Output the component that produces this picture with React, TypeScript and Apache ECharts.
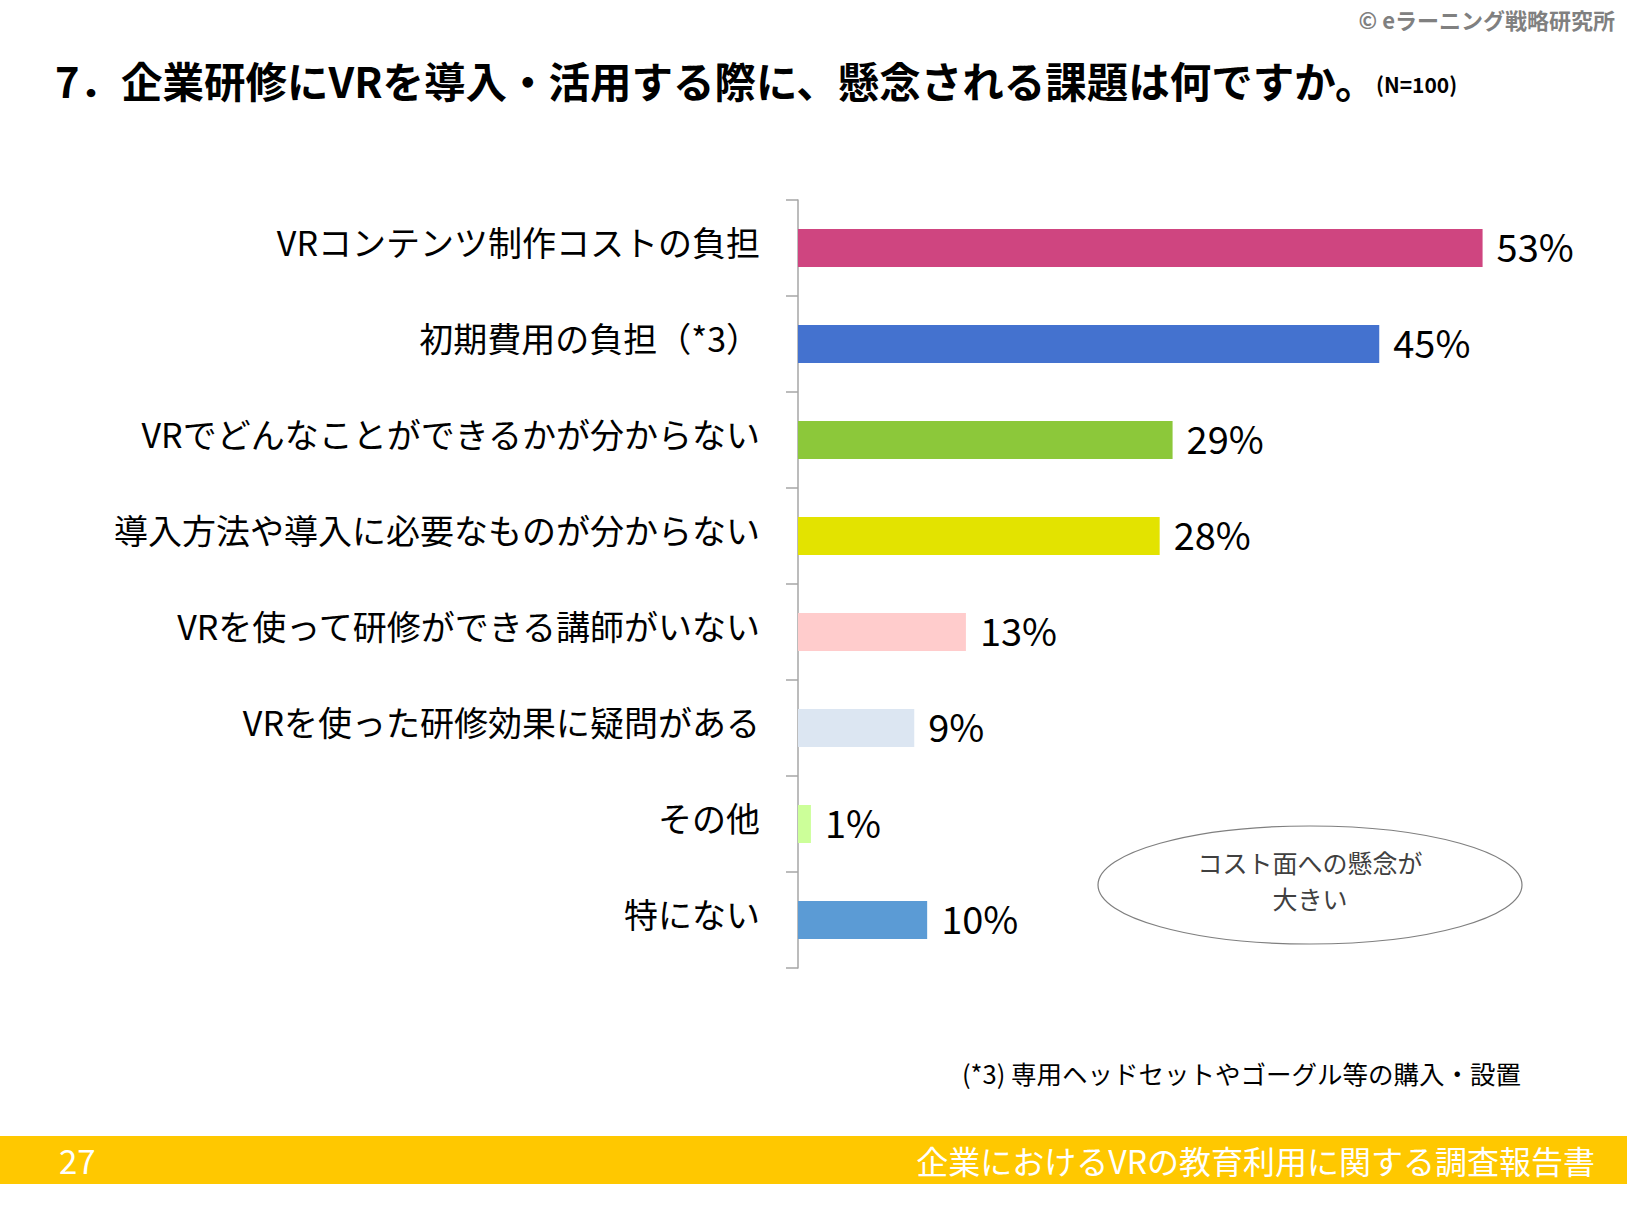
import React, { useEffect, useRef } from "react";
import * as echarts from "echarts";

const categories = [
  "VRコンテンツ制作コストの負担",
  "初期費用の負担（*3）",
  "VRでどんなことができるかが分からない",
  "導入方法や導入に必要なものが分からない",
  "VRを使って研修ができる講師がいない",
  "VRを使った研修効果に疑問がある",
  "その他",
  "特にない",
];
const values = [53, 45, 29, 28, 13, 9, 1, 10];
const barColors = ["#CF4580", "#4472CF", "#8CC83A", "#E3E300", "#FFCCCC", "#DCE6F2", "#CCFF99", "#5B9BD5"];

const titleText = "7．企業研修にVRを導入・活用する際に、懸念される課題は何ですか。";
const sampleText = "(N=100)";
const copyrightText = "© eラーニング戦略研究所";
const noteText = "(*3) 専用ヘッドセットやゴーグル等の購入・設置";
const calloutLines = ["コスト面への懸念が", "大きい"];
const pageNumber = "27";
const footerText = "企業におけるVRの教育利用に関する調査報告書";

const FONT = "'Noto Sans CJK JP', 'Noto Sans', sans-serif";

export default function App() {
  const ref = useRef<HTMLDivElement>(null);
  useEffect(() => {
    document.body.style.margin = "0";
    const chart = echarts.init(ref.current!, null, { renderer: "svg" });
    chart.setOption({
      animation: false,
      backgroundColor: "#ffffff",
      textStyle: { fontFamily: FONT },
      grid: { left: 798, top: 200, width: 775, height: 768, containLabel: false },
      xAxis: { type: "value", min: 0, max: 60, show: false },
      yAxis: {
        type: "category",
        data: categories,
        inverse: true,
        axisLine: { show: true, lineStyle: { color: "#A6A6A6", width: 1.5 } },
        axisTick: { show: true, length: 12, lineStyle: { color: "#A6A6A6", width: 1.5 } },
        axisLabel: {
          margin: 38,
          color: "#000",
          fontFamily: FONT,
          formatter: (v: string) => `{a|${v}}`,
          rich: { a: { fontSize: 34, color: "#000", fontFamily: FONT, padding: [0, 0, 14, 0] } },
        },
        splitLine: { show: false },
      },
      series: [
        {
          type: "bar",
          data: values.map((v, i) => ({ value: v, itemStyle: { color: barColors[i] } })),
          barWidth: 38,
          label: {
            show: true,
            position: "right",
            distance: 14,
            formatter: "{a|{c}%}",
            rich: { a: { fontSize: 38, color: "#000", fontFamily: FONT, padding: [0, 0, 6, 0] } },
          },
        },
      ],
      graphic: [
        {
          type: "text",
          left: 55,
          top: 59,
          style: { text: titleText, font: `bold 41.5px ${FONT}`, fill: "#000" },
        },
        {
          type: "text",
          left: 1376,
          top: 73,
          style: { text: sampleText, font: `bold 21px ${FONT}`, fill: "#000" },
        },
        {
          type: "text",
          right: 12,
          top: 8,
          style: { text: copyrightText, font: `bold 22px ${FONT}`, fill: "#808080" },
        },
        {
          type: "ellipse",
          shape: { cx: 1310, cy: 885, rx: 212, ry: 59 },
          style: { fill: "#fff", stroke: "#7F7F7F", lineWidth: 1.2 },
        },
        {
          type: "text",
          x: 1310,
          y: 862,
          style: { text: calloutLines[0], font: `25px ${FONT}`, fill: "#404040", align: "center", verticalAlign: "middle" },
        },
        {
          type: "text",
          x: 1310,
          y: 898,
          style: { text: calloutLines[1], font: `25px ${FONT}`, fill: "#404040", align: "center", verticalAlign: "middle" },
        },
        {
          type: "text",
          x: 1521,
          y: 1072,
          style: { text: noteText, font: `25.5px ${FONT}`, fill: "#000", align: "right", verticalAlign: "middle" },
        },
        {
          type: "rect",
          shape: { x: 0, y: 1136, width: 1627, height: 48 },
          style: { fill: "#FFC800" },
        },
        {
          type: "text",
          x: 59,
          y: 1160,
          style: { text: pageNumber, font: `33px ${FONT}`, fill: "#fff", verticalAlign: "middle" },
        },
        {
          type: "text",
          x: 1595,
          y: 1160,
          style: { text: footerText, font: `32px ${FONT}`, fill: "#fff", align: "right", verticalAlign: "middle" },
        },
      ],
    });
    return () => chart.dispose();
  }, []);
  return <div ref={ref} style={{ width: 1627, height: 1217 }} />;
}
